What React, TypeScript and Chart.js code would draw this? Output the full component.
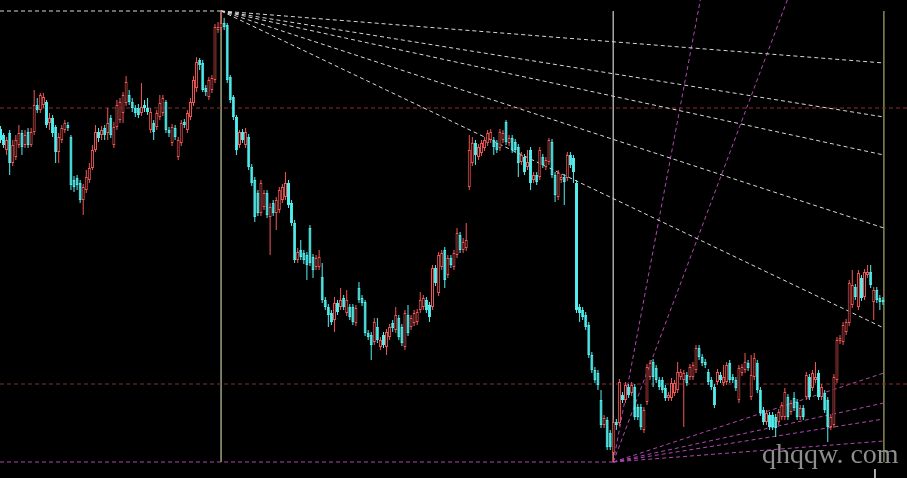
import React, { useEffect, useRef } from "react";
import { Chart, registerables } from "chart.js";

Chart.register(...registerables);

// Each bar: [open, high, low, close]
const bars: number[][] = [
  [371,374,357,360],[365,367,352,355],[350,363,345,360],[367,370,325,337],[337,360,334,355],
  [343,365,340,360],[355,375,352,367],[367,370,345,353],[355,370,352,365],[368,372,352,355],
  [355,372,353,368],[368,410,365,395],[395,402,387,390],[390,407,387,405],[395,407,392,403],
  [398,400,372,375],[377,387,370,382],[382,385,363,367],[373,375,337,348],[348,367,337,363],
  [360,375,357,372],[370,380,367,377],[375,378,369,372],[363,365,310,315],[320,324,308,313],
  [322,325,310,315],[317,320,297,300],[300,316,285,313],[310,330,307,323],[320,337,317,332],
  [332,355,330,350],[350,375,348,368],[368,372,358,362],[365,374,360,370],[372,375,360,365],
  [367,392,360,377],[382,385,362,365],[355,378,352,373],[373,400,370,395],[380,402,377,398],
  [387,408,377,405],[397,424,394,418],[405,410,395,398],[398,402,388,392],[392,395,383,387],
  [392,396,382,385],[387,417,384,393],[395,400,388,392],[392,402,385,388],[370,392,367,388],
  [377,380,360,368],[373,390,370,387],[383,405,380,397],[387,405,384,402],[398,400,367,370],
  [370,373,363,367],[357,376,354,373],[372,375,360,363],[343,363,340,360],[357,380,354,377],
  [378,381,372,375],[370,390,367,387],[383,402,380,398],[397,424,394,420],[412,443,408,438],
  [440,442,430,435],[437,440,408,410],[412,415,404,408],[403,423,400,420],[410,425,407,422],
  [420,476,417,473],[470,478,467,473],[472,489,469,477],[477,482,470,473],[475,477,417,420],
  [423,425,397,400],[403,405,380,383],[383,385,345,350],[355,370,352,368],[368,371,357,360],
  [355,372,352,368],[363,366,330,333],[333,336,314,317],[320,323,278,283],[307,310,284,287],
  [287,320,284,317],[293,310,290,307],[307,310,282,285],[283,297,245,293],[297,300,284,287],
  [287,303,270,300],[290,313,287,310],[300,316,297,313],[303,328,300,317],[317,320,292,295],
  [297,300,274,277],[277,280,237,240],[240,252,237,248],[250,260,240,243],[247,250,236,240],
  [245,248,220,235],[272,275,234,237],[243,246,222,230],[233,245,230,242],[233,250,230,243],
  [223,237,197,200],[200,203,190,193],[193,196,173,185],[187,190,175,178],[180,203,168,197],
  [197,200,185,188],[193,212,190,200],[202,205,190,193],[187,210,184,200],[193,196,180,183],
  [193,196,175,178],[177,195,174,192],[212,218,197,200],[202,205,194,197],[198,200,164,167],
  [167,170,160,163],[165,168,140,155],[158,182,155,178],[173,182,157,160],[153,163,150,160],
  [165,168,152,155],[153,171,145,168],[163,176,160,173],[177,180,168,172],[170,193,167,185],
  [182,185,160,163],[173,176,154,157],[153,190,150,187],[185,195,164,167],[173,185,170,182],
  [177,190,174,187],[178,191,175,188],[190,208,187,200],[193,205,190,202],[200,203,187,190],
  [195,198,178,183],[193,235,190,232],[232,235,214,217],[207,248,204,245],[233,250,230,247],
  [250,253,212,220],[225,245,222,242],[242,245,232,235],[233,250,230,247],[245,272,242,267],
  [265,268,247,250],[250,262,247,258],[252,277,249,260],[313,365,310,350],[337,363,334,357],
  [357,360,335,345],[343,356,340,353],[347,360,344,357],[352,363,349,360],[357,370,354,367],
  [360,371,357,368],[360,363,345,353],[357,360,347,350],[352,371,349,368],[360,370,357,367],
  [378,380,355,358],[357,365,354,362],[362,365,347,350],[358,361,347,350],[353,356,323,337],
  [338,348,335,345],[343,346,325,328],[333,350,330,338],[350,353,310,317],[320,328,317,325],
  [325,328,315,318],[323,353,320,350],[343,346,332,335],[333,343,330,340],[338,362,335,360],
  [358,361,322,325],[325,328,298,305],[303,330,300,327],[320,326,317,323],[323,326,295,318],
  [322,348,319,345],[345,348,332,335],[342,345,317,328],[317,320,187,190],[193,196,178,187],
  [190,193,180,183],[185,188,170,173],[175,178,142,145],[145,148,127,130],[130,133,117,120],
  [127,130,110,115],[100,110,72,75],[75,85,72,82],[80,83,50,53],[67,70,50,53],
  [47,81,38,78],[78,81,70,75],[77,121,74,118],[105,108,97,100],[100,118,97,115],
  [113,116,102,105],[107,118,104,115],[113,116,80,83],[93,96,80,83],[93,96,70,73],
  [70,93,67,90],[98,136,95,133],[123,140,120,137],[138,141,113,123],[132,135,117,120],
  [120,123,110,113],[120,123,107,110],[112,115,99,102],[102,108,99,105],[102,122,99,117],
  [107,120,104,117],[110,138,107,128],[123,131,120,128],[120,130,73,127],[125,128,114,117],
  [123,136,120,133],[123,138,120,135],[130,155,127,152],[152,155,140,143],[143,146,134,137],
  [138,141,132,135],[128,131,115,118],[120,123,110,113],[113,116,92,95],[118,131,115,128],
  [125,128,117,120],[117,135,114,123],[118,138,115,135],[137,140,117,120],[123,126,117,120],
  [120,123,109,112],[100,135,97,132],[127,136,124,133],[130,147,127,138],[137,140,129,132],
  [103,145,100,125],[123,147,120,142],[137,140,107,110],[110,113,84,87],[90,93,75,78],
  [78,90,75,87],[85,88,70,73],[85,88,70,73],[83,86,63,72],[78,91,75,88],
  [83,98,80,95],[83,112,80,108],[103,106,80,83],[88,100,85,97],[102,108,89,92],
  [98,101,80,83],[83,95,80,92],[92,95,80,83],[103,128,100,125],[123,126,100,103],
  [112,130,109,127],[120,138,117,123],[127,130,100,103],[103,116,100,113],[107,110,87,90],
  [100,103,58,73],[73,86,70,83],[75,126,72,123],[120,163,117,160],[159,165,156,162],
  [158,178,155,175],[168,181,165,178],[177,220,174,217],[195,230,192,215],[213,216,200,203],
  [193,230,190,227],[222,225,199,202],[203,231,200,228],[225,235,222,228],[228,235,212,215],
  [198,213,180,210],[210,213,197,200],[202,205,190,198],[200,203,195,198],
];

// Markers (bar index) and reference levels (price)
const peakIndex = 72;
const lowIndex = 200;
const rightIndex = 288.3;
const peakLevel = 489;
const lowLevel = 38;
const redLevels = [392, 116];
const whiteFanEnds = [437, 383, 345, 272, 172];
const magentaSteepEndIndex = [228.4, 256.8];
const magentaFanEnds = [127, 97, 81, 59];
const cursorIndex = 285.4;

const X_MIN = -0.16;
const X_MAX = 295.86;
const Y_MIN = 22;
const Y_MAX = 500;

const RED = "#f25656";
const CYAN = "#54f0f0";
const WHITE_DASH = "#d8d8d8";
const MAGENTA = "#b048b0";
const DARK_RED = "#8e2c2c";

function lineDs(points: { x: number; y: number }[], color: string, dash: number[] = [4, 3]) {
  return {
    type: "line" as const,
    data: points,
    borderColor: color,
    borderWidth: 1,
    borderDash: dash,
    pointRadius: 0,
    fill: false,
    tension: 0,
    order: 10,
  };
}

export default function App() {
  const ref = useRef<HTMLCanvasElement>(null);

  useEffect(() => {
    document.body.style.margin = "0";
    document.body.style.background = "#000";
    const isUp = bars.map((b) => b[3] >= b[0]);

    const overlays: any[] = [];
    overlays.push(lineDs([{ x: X_MIN, y: peakLevel }, { x: peakIndex, y: peakLevel }], WHITE_DASH));
    whiteFanEnds.forEach((v) =>
      overlays.push(lineDs([{ x: peakIndex, y: peakLevel }, { x: rightIndex, y: v }], WHITE_DASH))
    );
    redLevels.forEach((v) =>
      overlays.push(lineDs([{ x: X_MIN, y: v }, { x: X_MAX, y: v }], DARK_RED, [4, 3]))
    );
    overlays.push(lineDs([{ x: X_MIN, y: lowLevel }, { x: lowIndex, y: lowLevel }], MAGENTA));
    magentaSteepEndIndex.forEach((ix) =>
      overlays.push(lineDs([{ x: lowIndex, y: lowLevel }, { x: ix, y: Y_MAX }], MAGENTA))
    );
    magentaFanEnds.forEach((v) =>
      overlays.push(lineDs([{ x: lowIndex, y: lowLevel }, { x: rightIndex, y: v }], MAGENTA))
    );
    overlays.push(lineDs([{ x: peakIndex, y: peakLevel }, { x: peakIndex, y: lowLevel }], "#8c8c6c", []));
    overlays.push(lineDs([{ x: lowIndex, y: peakLevel }, { x: lowIndex, y: lowLevel }], "#a8a8a8", []));
    overlays.push(lineDs([{ x: rightIndex, y: peakLevel }, { x: rightIndex, y: lowLevel }], "#7c7c50", []));
    overlays.push(lineDs([{ x: cursorIndex, y: 31 }, { x: cursorIndex, y: Y_MIN }], "#c8c8c8", []));

    const chart = new Chart(ref.current as HTMLCanvasElement, {
      type: "bar",
      data: {
        datasets: [
          {
            type: "bar",
            data: bars.map((b, i) => ({ x: i, y: [b[2], b[1]] })) as any,
            backgroundColor: isUp.map((u) => (u ? RED : CYAN)),
            borderWidth: 0,
            barThickness: 1,
            grouped: false,
            inflateAmount: 0,
            order: 2,
          } as any,
          {
            type: "bar",
            data: bars.map((b, i) => ({ x: i, y: [Math.min(b[0], b[3]), Math.max(b[0], b[3])] })) as any,
            backgroundColor: isUp.map((u) => (u ? "#000000" : CYAN)),
            borderColor: isUp.map((u) => (u ? RED : CYAN)),
            borderWidth: 1,
            borderSkipped: false,
            barThickness: 3,
            grouped: false,
            inflateAmount: 0,
            order: 1,
          } as any,
          ...overlays,
        ],
      },
      options: {
        responsive: false,
        animation: false,
        events: [],
        layout: { padding: 0 },
        plugins: { legend: { display: false }, tooltip: { enabled: false }, title: { display: false } },
        scales: {
          x: { type: "linear", min: X_MIN, max: X_MAX, display: false, offset: false, grid: { display: false } },
          y: { type: "linear", min: Y_MIN, max: Y_MAX, display: false, stacked: false, grid: { display: false } },
        },
      } as any,
    });
    return () => chart.destroy();
  }, []);

  return (
    <div style={{ position: "relative", width: 907, height: 478, background: "#000", overflow: "hidden" }}>
      <canvas ref={ref} width={907} height={478} style={{ display: "block", width: 907, height: 478 }} />
      <div
        style={{
          position: "absolute",
          left: 762,
          top: 440,
          fontFamily: '"Liberation Serif", "DejaVu Serif", serif',
          fontSize: 28,
          lineHeight: "28px",
          color: "#8e8e8e",
          whiteSpace: "pre",
        }}
      >
        qhqqw. com
      </div>
    </div>
  );
}
